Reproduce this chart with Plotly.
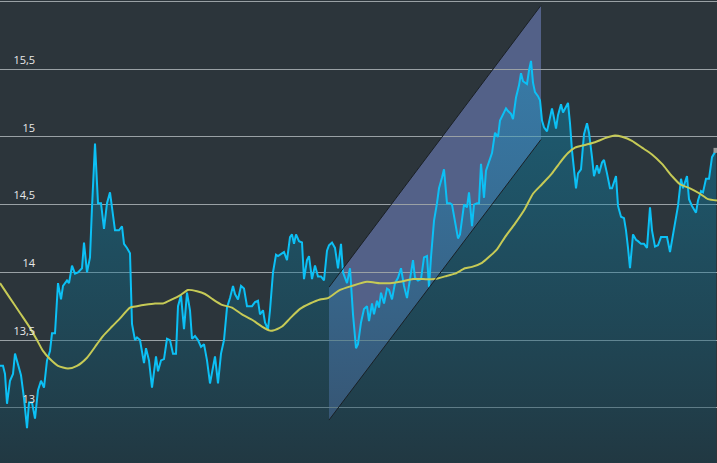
import plotly.graph_objects as go

# ---- data ----
session = [0, 3, 5, 7, 10, 13, 15, 18, 21, 24, 27, 29, 32, 35, 38, 41, 44, 47, 50, 52, 55, 58, 61, 63, 67, 69,
           72, 75, 78, 82, 84, 87, 90, 92, 95, 98, 101, 104, 107, 110, 113, 115, 119, 122, 124, 127, 130, 132,
           135, 137, 140, 144, 146, 149, 152, 156, 158, 161, 164, 167, 170, 173, 176, 178, 181, 184, 187, 190,
           192, 195, 198, 201, 204, 207, 210, 213, 215, 218, 221, 224, 227, 230, 233, 235, 238, 241, 244, 247,
           250, 252, 255, 258, 260, 263, 265, 268, 270, 273, 276, 278, 282, 284, 287, 290, 292, 294, 296, 299,
           302, 304, 307, 309, 312, 315, 318, 321, 324, 327, 329, 332, 335, 338, 341, 343, 347, 350, 353, 356,
           358, 361, 364, 367, 369, 372, 374, 377, 379, 381, 384, 387, 389, 392, 395, 398, 401, 404, 407, 409,
           413, 415, 418, 421, 424, 427, 429, 431, 434, 437, 439, 442, 444, 447, 450, 452, 455, 458, 460, 462,
           464, 467, 469, 472, 474, 477, 479, 481, 484, 486, 489, 492, 495, 498, 500, 503, 506, 508, 511, 513,
           516, 519, 521, 523, 527, 529, 531, 533, 535, 538, 540, 542, 544, 547, 550, 552, 554, 556, 558, 561,
           563, 565, 568, 570, 572, 576, 578, 581, 584, 587, 589, 592, 594, 597, 599, 602, 604, 607, 610, 612,
           616, 618, 621, 624, 626, 628, 630, 633, 636, 638, 641, 644, 647, 650, 652, 655, 658, 661, 664, 667,
           670, 673, 676, 678, 681, 683, 687, 689, 692, 696, 698, 701, 703, 706, 709, 712, 716]
price = [13.31, 13.31, 13.25, 13.03, 13.20, 13.25, 13.40, 13.31, 13.24, 13.07, 12.85, 13.04, 13.04, 12.92, 13.13,
         13.20, 13.15, 13.35, 13.42, 13.55, 13.55, 13.92, 13.80, 13.90, 13.94, 13.92, 14.05, 13.99, 14.00, 14.03,
         14.22, 14.00, 14.11, 14.48, 14.95, 14.51, 14.51, 14.32, 14.51, 14.59, 14.40, 14.31, 14.31, 14.34, 14.21,
         14.18, 14.14, 13.62, 13.50, 13.52, 13.50, 13.33, 13.44, 13.35, 13.15, 13.38, 13.27, 13.35, 13.36, 13.51,
         13.50, 13.40, 13.40, 13.75, 13.83, 13.58, 13.85, 13.72, 13.51, 13.53, 13.50, 13.45, 13.47, 13.35, 13.18,
         13.29, 13.38, 13.18, 13.40, 13.50, 13.74, 13.81, 13.90, 13.84, 13.80, 13.90, 13.88, 13.75, 13.75, 13.75,
         13.78, 13.79, 13.69, 13.72, 13.63, 13.58, 13.72, 14.00, 14.13, 14.12, 14.14, 14.15, 14.09, 14.26, 14.28,
         14.21, 14.28, 14.23, 14.22, 13.95, 14.09, 14.12, 13.95, 14.05, 13.97, 13.97, 13.94, 14.16, 14.20, 14.22,
         14.18, 14.03, 14.21, 14.00, 13.92, 14.03, 13.69, 13.44, 13.47, 13.63, 13.73, 13.75, 13.64, 13.77, 13.69,
         13.79, 13.74, 13.85, 13.77, 13.88, 13.87, 13.80, 13.92, 13.96, 14.03, 13.90, 13.81, 13.90, 14.09, 13.96,
         13.94, 13.95, 14.11, 14.12, 13.89, 14.11, 14.38, 14.51, 14.62, 14.70, 14.76, 14.51, 14.51, 14.50, 14.38,
         14.25, 14.28, 14.40, 14.50, 14.48, 14.59, 14.34, 14.50, 14.51, 14.51, 14.80, 14.55, 14.75, 14.81, 14.88,
         15.03, 15.00, 15.12, 15.16, 15.21, 15.19, 15.17, 15.13, 15.29, 15.38, 15.47, 15.41, 15.39, 15.49, 15.56,
         15.40, 15.33, 15.30, 15.27, 15.12, 15.07, 15.04, 15.13, 15.21, 15.14, 15.06, 15.16, 15.24, 15.18, 15.21,
         15.25, 15.10, 14.90, 14.62, 14.73, 14.76, 15.02, 15.10, 15.03, 14.85, 14.71, 14.79, 14.73, 14.81, 14.83,
         14.73, 14.62, 14.62, 14.71, 14.49, 14.41, 14.40, 14.31, 14.18, 14.03, 14.28, 14.24, 14.23, 14.21, 14.21,
         14.18, 14.48, 14.31, 14.19, 14.20, 14.26, 14.26, 14.26, 14.15, 14.28, 14.39, 14.49, 14.69, 14.62, 14.71,
         14.54, 14.49, 14.44, 14.53, 14.60, 14.59, 14.69, 14.69, 14.85, 14.90]

ma_session = [0, 10, 20, 30, 37, 43, 50, 58, 68, 77, 87, 97, 103, 112, 120, 130, 137, 145, 155, 163, 172, 180,
              188, 197, 205, 213, 222, 232, 242, 252, 262, 270, 273, 282, 290, 300, 310, 320, 328, 340, 352, 367,
              380, 390, 400, 413, 423, 435, 445, 455, 465, 472, 482, 490, 497, 505, 515, 525, 533, 542, 552, 560,
              568, 575, 585, 595, 605, 615, 622, 632, 642, 652, 662, 672, 680, 690, 700, 708, 717]
ma_price = [13.92, 13.81, 13.70, 13.59, 13.50, 13.42, 13.36, 13.31, 13.29, 13.31, 13.37, 13.47, 13.53, 13.60,
            13.66, 13.74, 13.75, 13.76, 13.77, 13.77, 13.80, 13.83, 13.87, 13.86, 13.84, 13.80, 13.76, 13.74,
            13.69, 13.65, 13.60, 13.57, 13.57, 13.60, 13.66, 13.73, 13.77, 13.80, 13.81, 13.87, 13.90, 13.93,
            13.92, 13.92, 13.93, 13.95, 13.95, 13.95, 13.97, 13.99, 14.03, 14.04, 14.07, 14.12, 14.17, 14.26,
            14.36, 14.47, 14.58, 14.65, 14.73, 14.81, 14.88, 14.92, 14.94, 14.96, 14.99, 15.01, 15.00, 14.97,
            14.92, 14.87, 14.80, 14.71, 14.65, 14.62, 14.58, 14.54, 14.53]

channel_session = [329, 541]
channel_upper = [13.89, 15.97]
channel_lower = [12.91, 14.98]

tick_values = [12.5, 13, 13.5, 14, 14.5, 15, 15.5, 16]
tick_labels = ["12,5", "13", "13,5", "14", "14,5", "15", "15,5", "16"]

y_range = [12.593, 16.0096]
x_range = [0, 717]

# ---- figure ----
fig = go.Figure()

fig.add_trace(go.Scatter(
    x=session, y=price, mode="lines",
    line=dict(color="#0cc0f5", width=2),
    fill="tozeroy",
    fillgradient=dict(
        type="vertical", start=12.6, stop=15.6,
        colorscale=[[0, "rgba(20,60,75,0.45)"], [0.5, "rgba(10,115,150,0.38)"], [1, "rgba(0,175,230,0.33)"]],
    ),
    hoverinfo="skip",
))

fig.add_trace(go.Scatter(
    x=[session[-1]], y=[price[-1]], mode="markers",
    marker=dict(color="#9a9a9a", size=5, symbol="square"),
    hoverinfo="skip",
))

fig.add_trace(go.Scatter(
    x=ma_session, y=ma_price, mode="lines", yaxis="y2",
    line=dict(color="#c6ca56", width=2, shape="spline", smoothing=0.6),
    hoverinfo="skip",
))

x0, x1 = channel_session
path = (f"M {x0},{channel_lower[0]} L {x0},{channel_upper[0]} "
        f"L {x1},{channel_upper[1]} L {x1},{channel_lower[1]} Z")
fig.add_shape(type="path", path=path, xref="x", yref="y",
              fillcolor="rgba(130,150,230,0.45)", line=dict(width=0), layer="below")
fig.add_shape(type="line", xref="x", yref="y", x0=x0, x1=x1, y0=channel_upper[0], y1=channel_upper[1],
              line=dict(color="#1a2025", width=1), layer="above")
fig.add_shape(type="line", xref="x", yref="y", x0=x0, x1=x1, y0=channel_lower[0], y1=channel_lower[1],
              line=dict(color="#1a2025", width=1), layer="above")

fig.update_layout(
    width=717, height=463,
    margin=dict(l=0, r=0, t=0, b=0, pad=0, autoexpand=False),
    paper_bgcolor="#2c353b", plot_bgcolor="#2c353b",
    showlegend=False,
    separators=",.",
    xaxis=dict(range=x_range, visible=False, fixedrange=True),
    yaxis=dict(range=y_range, tickvals=tick_values, showticklabels=False, ticks="",
               gridcolor="#9aa1a5", gridwidth=1, zeroline=False, showline=False),
    yaxis2=dict(range=y_range, overlaying="y", anchor="free", position=0.049, side="left",
                tickvals=tick_values, ticktext=tick_labels, showgrid=False, zeroline=False,
                showline=False, ticks="", ticklabelshift=-9,
                tickfont=dict(family="Open Sans", size=11, color="#e8e8e8")),
)

fig.write_html("out.html", config={"displayModeBar": False},
               post_script="document.body.style.margin='0';")
